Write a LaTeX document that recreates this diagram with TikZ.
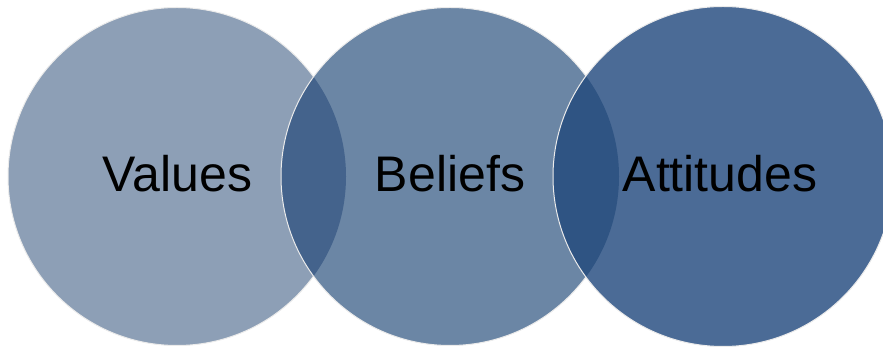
\documentclass[tikz,border=0pt]{standalone}
\usepackage{fontspec}
\setmainfont{Liberation Sans}
\definecolor{cone}{RGB}{141,159,182}
\definecolor{ctwo}{RGB}{107,134,165}
\definecolor{cthree}{RGB}{75,107,150}
\definecolor{lensa}{RGB}{68,99,140}
\definecolor{lensb}{RGB}{47,84,131}
\tikzset{
  edge/.style={draw=white!92!black, line width=1pt},
  lbl/.style={font=\fontsize{50}{60}\selectfont, text=black, anchor=base, inner sep=0pt}
}
\begin{document}
\begin{tikzpicture}[x=1pt,y=1pt]
\useasboundingbox (0,0) rectangle (883,347);
\clip (0,0) rectangle (883,347);
\coordinate (c1) at (177,170.5);
\coordinate (c2) at (450,170.5);
\coordinate (c3) at (723,170.5);
% circle 1
\fill[cone] (c1) circle (169);
\draw[edge] (c1) circle (169);
% circle 2
\fill[ctwo] (c2) circle (169);
\begin{scope}
  \clip (c1) circle (169);
  \fill[lensa] (c2) circle (169);
\end{scope}
\draw[edge] (c2) circle (169);
% circle 3
\fill[cthree] (c3) circle (170);
\begin{scope}
  \clip (c2) circle (169);
  \fill[lensb] (c3) circle (170);
\end{scope}
\draw[edge] (c3) circle (170);
% labels
\node[lbl] (values) at (177.5,155) {Values};
\node[lbl] (beliefs) at (450,155) {Beliefs};
\node[lbl] (attitudes) at (720,155) {Attitudes};
\end{tikzpicture}
\end{document}
